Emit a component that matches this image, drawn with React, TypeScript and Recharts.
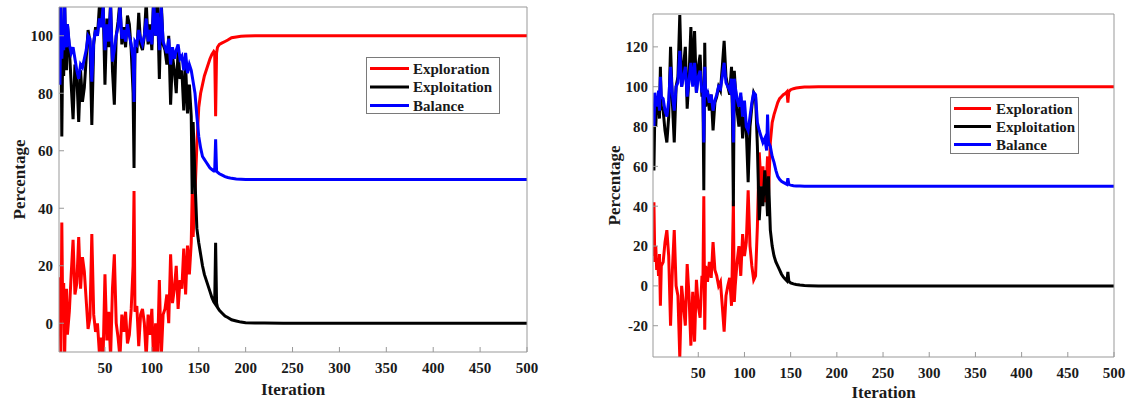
import React from 'react';
import { LineChart, Line, XAxis, YAxis } from 'recharts';

// ---------- shared ----------
const SERIES_NAMES = ['Exploration', 'Exploitation', 'Balance'];
const SERIES_KEYS = ['exploration', 'exploitation', 'balance'];
const SERIES_COLORS = ['#ff0000', '#000000', '#0000ff'];
const X_TICKS = [50, 100, 150, 200, 250, 300, 350, 400, 450, 500];
const X_DOMAIN = [1, 500];

// ---------- left panel ----------
const L_ITER = [
  1, 2, 3, 4, 5, 6, 7, 8, 9, 10,
  12, 14, 16, 18, 20, 22, 24, 26, 28, 30,
  32, 34, 36, 38, 40, 42, 44, 46, 48, 50,
  52, 54, 56, 58, 60, 62, 64, 66, 68, 70,
  72, 74, 76, 78, 80, 81, 82, 84, 86, 88,
  90, 92, 94, 96, 98, 100, 102, 104, 106, 108,
  110, 112, 114, 116, 118, 120, 122, 124, 126, 128,
  130, 132, 134, 136, 138, 140, 142, 143, 144, 146,
  148, 150, 152, 154, 156, 158, 160, 162, 164, 166,
  167, 168, 169, 170, 172, 175, 178, 181, 185, 190,
  195, 200, 210, 220, 240, 260, 280, 300, 350, 400,
  450, 500,
];
const L_EXPLORATION = [
  16, 8, -12, 35, 2, 14, -12, 5, 12, -4,
  4, 17, 29, 10, 14, 30, 12, 23, 18, 8,
  -2, 2, 31, 3, -3, 0, -10, -5, -12, 17,
  -6, 4, -12, 12, 24, 0, -5, -12, 3, -3,
  4, -7, -4, 5, 20, 46, 4, 6, -8, 3,
  5, 0, -12, 3, -4, 5, -15, 0, -12, 15,
  -12, 3, 5, 10, 0, 24, 7, 12, 20, 5,
  15, 12, 26, 10, 27, 17, 28, 45, 30, 45,
  62, 75, 80, 83, 86, 88, 90, 92, 93.5, 94.5,
  94, 72, 94, 96, 97, 97.5, 98, 98.5, 99.3, 99.6,
  99.8, 99.9, 100, 100, 100, 100, 100, 100, 100, 100,
  100, 100,
];
const L_EXPLOITATION = [
  84, 92, 112, 65, 98, 86, 112, 95, 88, 104,
  96, 83, 71, 90, 86, 70, 88, 77, 82, 92,
  102, 98, 69, 97, 103, 100, 110, 105, 112, 83,
  106, 96, 112, 88, 76, 100, 105, 112, 97, 103,
  96, 107, 104, 95, 80, 54, 96, 94, 108, 97,
  95, 100, 112, 97, 104, 95, 115, 100, 112, 85,
  112, 97, 95, 90, 100, 76, 93, 88, 80, 95,
  85, 88, 74, 90, 73, 83, 72, 45, 70, 50,
  33, 28, 24, 20, 17, 15, 13, 11, 9, 7.5,
  7, 28, 7, 5.5, 4.5, 3.5, 2.5, 2, 1.2, 0.8,
  0.4, 0.2, 0.1, 0.05, 0, 0, 0, 0, 0, 0,
  0, 0,
];
const L_BALANCE = [
  90, 83, 112, 92, 100, 95, 112, 98, 96, 104,
  97, 94, 96, 92, 88, 85, 90, 89, 92, 95,
  100, 99, 84, 98, 102, 100, 106, 103, 110, 95,
  104, 98, 110, 91, 95, 100, 103, 110, 99, 102,
  98, 104, 100, 97, 92, 77, 98, 97, 102, 99,
  97, 100, 106, 98, 102, 97, 112, 100, 108, 95,
  110, 98, 96, 94, 99, 90, 96, 92, 95, 97,
  92, 93, 88, 94, 87, 90, 88, 86, 84, 80,
  72, 65, 61, 58, 57, 56, 55, 54, 53.5, 53,
  53, 64, 53, 52.5, 52, 51.5, 51, 50.7, 50.4, 50.2,
  50.1, 50, 50, 50, 50, 50, 50, 50, 50, 50,
  50, 50,
];
const L_Y_TICKS = [0, 20, 40, 60, 80, 100];
const L_Y_DOMAIN = [-10, 110];

// ---------- right panel ----------
const R_ITER = [
  1, 2, 3, 4, 5, 6, 7, 8, 9, 10,
  12, 14, 16, 18, 20, 22, 24, 26, 28, 30,
  32, 34, 36, 38, 40, 42, 44, 46, 48, 50,
  52, 54, 55, 56, 57, 58, 60, 62, 64, 66,
  68, 70, 72, 74, 76, 78, 80, 82, 84, 86,
  87, 88, 89, 90, 92, 94, 96, 98, 100, 102,
  104, 106, 108, 110, 112, 114, 116, 118, 120, 122,
  124, 125, 126, 128, 130, 132, 134, 136, 138, 140,
  142, 144, 146, 147, 148, 150, 153, 156, 160, 165,
  170, 180, 200, 250, 300, 400, 500,
];
const R_EXPLORATION = [
  15, 42, 12, 20, 8, 14, 5, 16, -10, 10,
  12, 22, 28, 15, -20, 8, 28, 0, -5, -36,
  0, -10, -20, 11, -5, -30, -3, -28, 3, -10,
  -16, 5, 0, 45, -22, 10, 2, 12, 4, 22,
  8, 5, 0, 2, -10, -23, -5, 0, 4, -10,
  15, 43, -8, 0, 12, 20, 5, 26, 15, 22,
  48, 20, 10, 3, 5, 30, 67, 50, 60, 42,
  55, 65, 45, 72, 82, 86, 89, 92, 94, 95,
  96, 96.5, 97.5, 92, 97.5, 98.5, 99, 99.3, 99.6, 99.8,
  99.9, 100, 100, 100, 100, 100, 100,
];
const R_EXPLOITATION = [
  85, 58, 88, 80, 92, 86, 95, 84, 110, 90,
  88, 78, 72, 85, 120, 92, 72, 100, 105, 136,
  100, 110, 120, 89, 105, 130, 103, 128, 97, 110,
  116, 95, 100, 48, 122, 90, 98, 88, 96, 78,
  92, 95, 100, 98, 110, 123, 105, 100, 96, 110,
  85, 40, 108, 100, 88, 80, 95, 74, 85, 78,
  52, 80, 90, 97, 95, 70, 33, 50, 40, 58,
  45, 35, 55, 28, 20, 15, 12, 10, 8, 6,
  4.5, 3.5, 2.5, 7, 2.5, 1.5, 1, 0.7, 0.4, 0.2,
  0.1, 0, 0, 0, 0, 0, 0,
];
const R_BALANCE = [
  91, 80, 97, 92, 95, 90, 98, 88, 105, 95,
  94, 88, 85, 93, 110, 96, 88, 100, 102, 118,
  100, 105, 110, 95, 103, 112, 100, 112, 97, 105,
  108, 97, 100, 72, 110, 95, 97, 92, 96, 88,
  93, 96, 100, 99, 105, 112, 102, 100, 98, 104,
  92, 72, 104, 100, 94, 90, 97, 85, 93, 80,
  78, 85, 92, 97, 96, 82, 78, 75, 72, 74,
  68, 86, 72, 70, 65, 62, 58, 55, 53.5, 52.5,
  52, 51.5, 51, 54, 51, 50.6, 50.3, 50.2, 50.1, 50,
  50, 50, 50, 50, 50, 50, 50,
];
const R_Y_TICKS = [-20, 0, 20, 40, 60, 80, 100, 120];
const R_Y_DOMAIN = [-35.7, 136.5];

// ---------- styling ----------
const FONT = '"Liberation Serif", "Times New Roman", serif';
const AXIS_COLOR = '#999999';
const TEXT_COLOR = '#1a1a1a';
const LINE_W = 3;
const tickStyle = { fill: TEXT_COLOR, fontSize: 15, fontFamily: FONT, fontWeight: 'bold' };

type LegendBox = { left: number; top: number; w: number; h: number; lx1: number; lx2: number; tx: number; y0: number; dy: number };

type PanelCfg = {
  left: number;
  width: number;
  mTop: number;
  mRight: number;
  yW: number;
  xH: number;
  yTickMargin: number;
  xTickMargin: number;
  yLabelDx: number;
  xLabelDy: number;
  iter: number[];
  exploration: number[];
  exploitation: number[];
  balance: number[];
  yDomain: number[];
  yTicks: number[];
  legend: LegendBox;
};

function LegendOverlay({ box }: { box: LegendBox }) {
  return (
    <svg width={box.w} height={box.h} style={{ position: 'absolute', left: box.left, top: box.top, display: 'block' }}>
      <rect x={0.5} y={0.5} width={box.w - 1} height={box.h - 1} fill="#ffffff" stroke="#7a7a7a" strokeWidth={1} />
      {SERIES_NAMES.map((name, i) => (
        <g key={name}>
          <line x1={box.lx1} x2={box.lx2} y1={box.y0 + i * box.dy} y2={box.y0 + i * box.dy} stroke={SERIES_COLORS[i]} strokeWidth={LINE_W} />
          <text x={box.tx} y={box.y0 + i * box.dy} dominantBaseline="central" fontFamily={FONT} fontWeight="bold" fontSize={15} fill={TEXT_COLOR}>
            {name}
          </text>
        </g>
      ))}
    </svg>
  );
}

function Panel({ cfg }: { cfg: PanelCfg }) {
  const data = cfg.iter.map((it, i) => ({
    it,
    exploration: cfg.exploration[i],
    exploitation: cfg.exploitation[i],
    balance: cfg.balance[i],
  }));
  return (
    <div style={{ position: 'absolute', left: cfg.left, top: 0, width: cfg.width, height: 406 }}>
      <LineChart width={cfg.width} height={406} data={data} margin={{ top: cfg.mTop, right: cfg.mRight, bottom: 0, left: 0 }}>
        <XAxis
          xAxisId="b"
          dataKey="it"
          type="number"
          domain={X_DOMAIN}
          ticks={X_TICKS}
          allowDataOverflow
          height={cfg.xH}
          tickSize={-5}
          tickMargin={cfg.xTickMargin}
          stroke={AXIS_COLOR}
          tick={tickStyle}
          label={{ value: 'Iteration', position: 'center', dy: cfg.xLabelDy, fill: TEXT_COLOR, fontSize: 17, fontFamily: FONT, fontWeight: 'bold' }}
        />
        <XAxis
          xAxisId="t"
          orientation="top"
          dataKey="it"
          type="number"
          domain={X_DOMAIN}
          ticks={X_TICKS}
          allowDataOverflow
          height={1}
          tickSize={-5}
          tick={false}
          stroke={AXIS_COLOR}
        />
        <YAxis
          yAxisId="l"
          type="number"
          domain={cfg.yDomain}
          ticks={cfg.yTicks}
          allowDataOverflow
          width={cfg.yW}
          tickSize={-5}
          tickMargin={cfg.yTickMargin}
          stroke={AXIS_COLOR}
          tick={tickStyle}
          label={{ value: 'Percentage', angle: -90, position: 'center', dx: cfg.yLabelDx, fill: TEXT_COLOR, fontSize: 17, fontFamily: FONT, fontWeight: 'bold' }}
        />
        <YAxis
          yAxisId="r"
          orientation="right"
          type="number"
          domain={cfg.yDomain}
          ticks={cfg.yTicks}
          allowDataOverflow
          width={1}
          tickSize={-5}
          tick={false}
          stroke={AXIS_COLOR}
        />
        {SERIES_KEYS.map((k, i) => (
          <Line
            key={k}
            xAxisId="b"
            yAxisId="l"
            type="linear"
            dataKey={k}
            name={SERIES_NAMES[i]}
            stroke={SERIES_COLORS[i]}
            strokeWidth={LINE_W}
            dot={false}
            activeDot={false}
            isAnimationActive={false}
          />
        ))}
      </LineChart>
      <LegendOverlay box={cfg.legend} />
    </div>
  );
}

const LEFT_CFG: PanelCfg = {
  left: 0,
  width: 545,
  mTop: 6,
  mRight: 17,
  yW: 59,
  xH: 54,
  yTickMargin: 11,
  xTickMargin: 15,
  yLabelDx: -11,
  xLabelDy: 10,
  iter: L_ITER,
  exploration: L_EXPLORATION,
  exploitation: L_EXPLOITATION,
  balance: L_BALANCE,
  yDomain: L_Y_DOMAIN,
  yTicks: L_Y_TICKS,
  legend: { left: 366, top: 57, w: 134, h: 57, lx1: 4, lx2: 43, tx: 47, y0: 11.5, dy: 18.5 },
};

const RIGHT_CFG: PanelCfg = {
  left: 590,
  width: 540,
  mTop: 13,
  mRight: 15,
  yW: 63,
  xH: 49,
  yTickMargin: 10,
  xTickMargin: 15,
  yLabelDx: -8,
  xLabelDy: 10,
  iter: R_ITER,
  exploration: R_EXPLORATION,
  exploitation: R_EXPLOITATION,
  balance: R_BALANCE,
  yDomain: R_Y_DOMAIN,
  yTicks: R_Y_TICKS,
  legend: { left: 360, top: 97, w: 129, h: 57, lx1: 4, lx2: 41, tx: 46, y0: 11.5, dy: 18 },
};

export default function App() {
  return (
    <div style={{ position: 'absolute', left: 0, top: 0, width: 1130, height: 406, overflow: 'hidden' }}>
      <Panel cfg={LEFT_CFG} />
      <Panel cfg={RIGHT_CFG} />
    </div>
  );
}
